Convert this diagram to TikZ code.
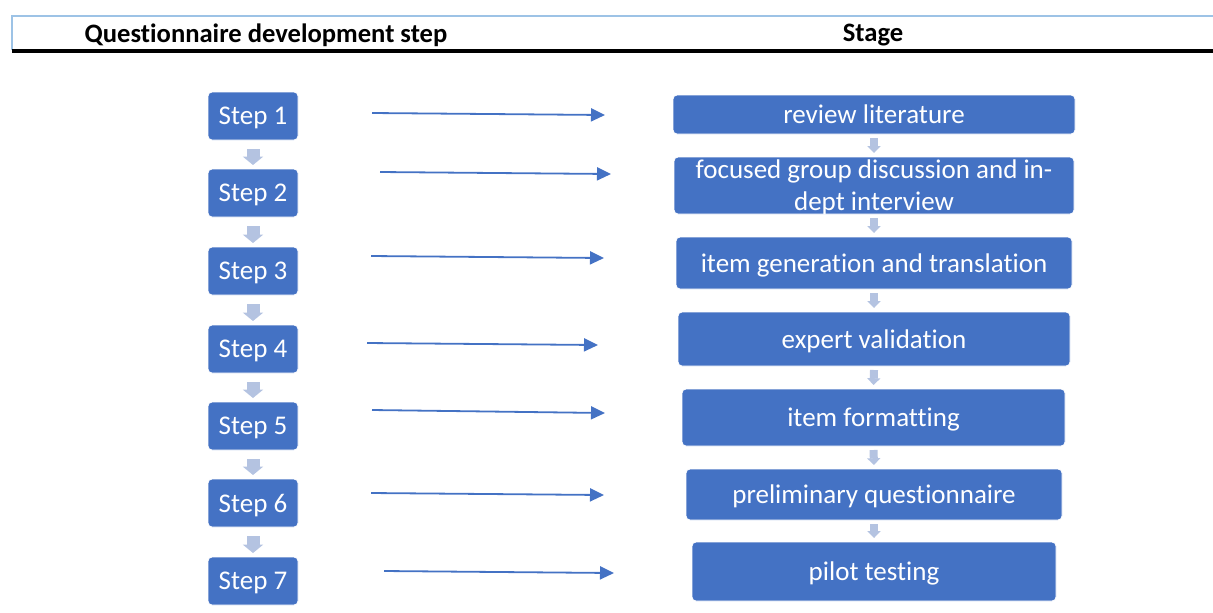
\documentclass[tikz,border=0pt]{standalone}
\usepackage{fontspec}
\setmainfont{Carlito}[Ligatures=NoCommon]
\usetikzlibrary{arrows.meta,positioning,calc}
\definecolor{boxblue}{HTML}{4472C4}
\definecolor{flowgrey}{HTML}{B4C3E1}
\definecolor{ruleblue}{HTML}{9DC3E6}

\begin{document}
\begin{tikzpicture}[x=0.5pt, y=-0.5pt, font=\fontsize{13.5pt}{16pt}\selectfont,
  box/.style={fill=boxblue, draw=white, line width=0.4pt, rounded corners=2pt,
              text=white, align=center, inner sep=0pt, outer sep=0pt, text depth=0pt},
  stepbox/.style={box, minimum width=45pt, minimum height=24pt},
  stagebox/.style={box, minimum width=#1},
  stagebox/.default=200pt,
  head/.style={font=\fontsize{13.3pt}{15pt}\selectfont\bfseries, text=black},
  down/.style={draw=flowgrey, line width=6.5pt,
               -{Triangle[width=10pt, length=4.2pt]}},
  downsm/.style={draw=flowgrey, line width=4pt,
               -{Triangle[width=6.5pt, length=3.4pt]}},
  link/.style={draw=boxblue, line width=0.9pt,
               -{Triangle[width=6.5pt, length=7pt]}}]
\useasboundingbox (0,0) rectangle (1213,612);

% table header
\draw[ruleblue, line width=1.2pt] (12,50) -- (12,16) -- (1213,16);
\draw[black, line width=1.9pt] (12,51) -- (1213,51);
\node[head] (hstep)  at (266,35) {Questionnaire development step};
\node[head] (hstage) at (873,35) {Stage};

% left column: the steps
\node[stepbox] (s1) at (253,116) {Step 1};
\node[stepbox] (s2) at (253,193) {Step 2};
\node[stepbox] (s3) at (253,271) {Step 3};
\node[stepbox] (s4) at (253,349) {Step 4};
\node[stepbox] (s5) at (253,426) {Step 5};
\node[stepbox] (s6) at (253,503) {Step 6};
\node[stepbox] (s7) at (253,581) {Step 7};

% right column: the stages
\node[stagebox=201pt, minimum height=19.5pt] (g1) at (874,114.5) {review literature};
\node[stagebox=200pt, minimum height=28.5pt] (g2) at (874,185.5) {focused group discussion and in-\\dept interview};
\node[stagebox=198pt, minimum height=26pt]   (g3) at (874,263)   {item generation and translation};
\node[stagebox=196pt, minimum height=27pt]   (g4) at (874,339)   {expert validation};
\node[stagebox=191.5pt, minimum height=28.5pt] (g5) at (873.5,417.5) {item formatting};
\node[stagebox=188pt, minimum height=25.5pt] (g6) at (874,494.5) {preliminary questionnaire};
\node[stagebox=182pt, minimum height=29.5pt] (g7) at (874,571.5) {pilot testing};

% flow down each column
\draw[down] ($(s1.south)+(0,9)$) -- ($(s2.north)+(0,-4)$);
\draw[down] ($(s2.south)+(0,9)$) -- ($(s3.north)+(0,-4)$);
\draw[down] ($(s3.south)+(0,9)$) -- ($(s4.north)+(0,-4)$);
\draw[down] ($(s4.south)+(0,9)$) -- ($(s5.north)+(0,-4)$);
\draw[down] ($(s5.south)+(0,9)$) -- ($(s6.north)+(0,-4)$);
\draw[down] ($(s6.south)+(0,9)$) -- ($(s7.north)+(0,-4)$);
\draw[downsm] ($(g1.south)+(0,4)$) -- ($(g2.north)+(0,-4)$);
\draw[downsm] ($(g2.south)+(0,4)$) -- ($(g3.north)+(0,-4)$);
\draw[downsm] ($(g3.south)+(0,4)$) -- ($(g4.north)+(0,-4)$);
\draw[downsm] ($(g4.south)+(0,4)$) -- ($(g5.north)+(0,-4)$);
\draw[downsm] ($(g5.south)+(0,4)$) -- ($(g6.north)+(0,-4)$);
\draw[downsm] ($(g6.south)+(0,4)$) -- ($(g7.north)+(0,-4)$);

% step -> stage links (free-standing)
\coordinate (a1) at (372,113); \coordinate (b1) at (605,115);
\coordinate (a2) at (380,172); \coordinate (b2) at (611,174);
\coordinate (a3) at (371,256); \coordinate (b3) at (604,258);
\coordinate (a4) at (367,343); \coordinate (b4) at (598,345);
\coordinate (a5) at (372,410); \coordinate (b5) at (605,413);
\coordinate (a6) at (371,493); \coordinate (b6) at (604,495);
\coordinate (a7) at (384,571); \coordinate (b7) at (614,573);
\draw[link] (a1) -- (b1);
\draw[link] (a2) -- (b2);
\draw[link] (a3) -- (b3);
\draw[link] (a4) -- (b4);
\draw[link] (a5) -- (b5);
\draw[link] (a6) -- (b6);
\draw[link] (a7) -- (b7);
\end{tikzpicture}
\end{document}
